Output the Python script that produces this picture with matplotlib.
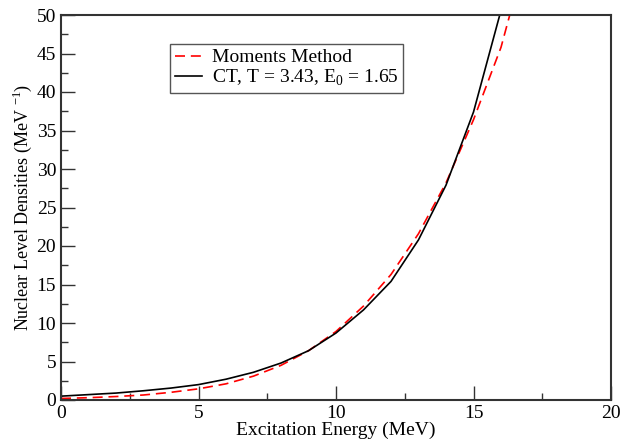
import matplotlib
matplotlib.use("Agg")
import matplotlib.pyplot as plt
from matplotlib.ticker import MultipleLocator

plt.rcParams['font.family'] = ['Liberation Serif', 'DejaVu Serif']
plt.rcParams['mathtext.fontset'] = 'custom'
plt.rcParams['mathtext.rm'] = 'Liberation Serif'

E = [0, 1, 2, 3, 4, 5, 6, 7, 8, 9, 10, 11, 12, 13, 14, 15, 16, 17]
moments = [0.2, 0.3, 0.45, 0.65, 1.0, 1.45, 2.1, 3.1, 4.5, 6.4, 8.9,
           12.2, 16.3, 21.6, 28.2, 36.4, 45.8, 59.0]
ct = [0.5, 0.7, 0.9, 1.2, 1.55, 2.0, 2.7, 3.6, 4.8, 6.4, 8.7,
      11.7, 15.4, 20.8, 27.9, 37.4, 50.6, 67.0]

fig = plt.figure(figsize=(6.2, 4.41), dpi=100)
ax = fig.add_axes([61/620, 41/441, 550/620, 385/441])

ax.plot(E, moments, '--', color='red', lw=1.2, dashes=(6, 3.5), label='Moments Method')
ax.plot(E, ct, '-', color='black', lw=1.2, label='CT, T = 3.43, E$_0$ = 1.65')

ax.set_xlim(0, 20)
ax.set_ylim(0, 50)
ax.xaxis.set_major_locator(MultipleLocator(5))
ax.xaxis.set_minor_locator(MultipleLocator(2.5))
ax.yaxis.set_major_locator(MultipleLocator(5))
ax.yaxis.set_minor_locator(MultipleLocator(2.5))
ax.tick_params(which='both', direction='in', top=False, right=False, labelsize=14, color='#333333')
ax.tick_params(which='major', length=10, width=1.0)
ax.tick_params(which='minor', length=5, width=1.0)
for s in ax.spines.values():
    s.set_linewidth(1.5)
    s.set_color('#333333')

ax.set_xlabel('Excitation Energy (MeV)', fontsize=14, labelpad=0)
ax.set_ylabel('Nuclear Level Densities (MeV $^{-1}$)', fontsize=13, labelpad=2)

leg = ax.legend(loc='upper left', bbox_to_anchor=(0.18, 0.95), fontsize=14,
                fancybox=False, framealpha=1, edgecolor='#555555',
                handlelength=1.4, borderpad=0.25, labelspacing=0.05, handletextpad=0.5)
leg.get_frame().set_linewidth(1.0)

fig.savefig('out.png', dpi=100)
